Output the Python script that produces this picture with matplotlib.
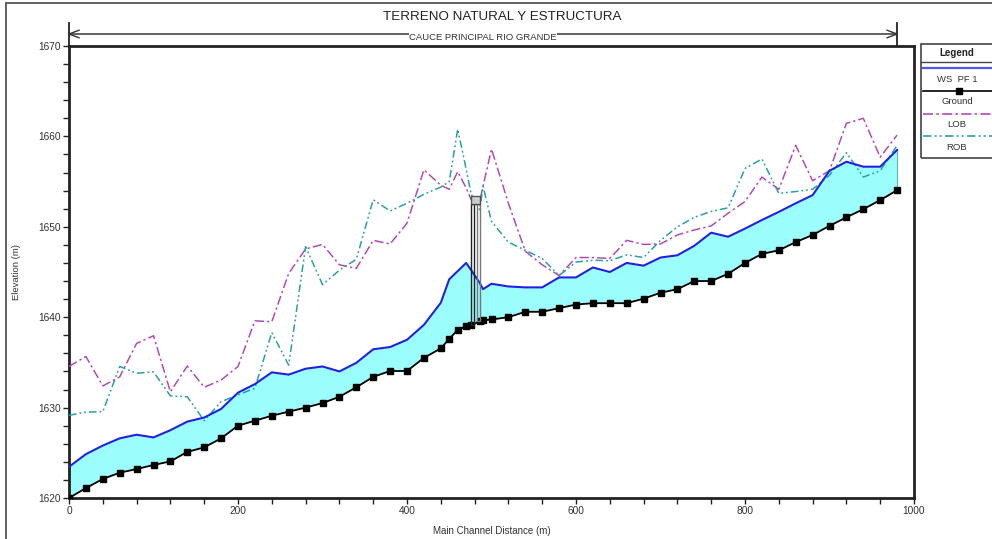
import matplotlib
matplotlib.use("Agg")
import matplotlib.pyplot as plt
from matplotlib.lines import Line2D
from matplotlib.patches import Rectangle
from matplotlib.ticker import MultipleLocator

plt.rcParams['font.family'] = ['Liberation Sans', 'DejaVu Sans']

# Stations along the main channel (m)
station = [0, 20, 40, 60, 80, 100, 120, 140, 160, 180, 200, 220, 240, 260, 280,
           300, 320, 340, 360, 380, 400, 420, 440, 450, 460, 470, 476, 486, 490,
           500, 520, 540, 560, 580, 600, 620, 640, 660, 680, 700, 720, 740, 760,
           780, 800, 820, 840, 860, 880, 900, 920, 940, 960, 980]

# Water surface elevation, profile PF 1 (m)
ws_pf1 = [1623.45, 1624.85, 1625.8, 1626.6, 1627.0, 1626.7, 1627.5, 1628.45,
          1628.9, 1629.85, 1631.65, 1632.6, 1633.9, 1633.65, 1634.3, 1634.55,
          1634.0, 1634.95, 1636.45, 1636.7, 1637.5, 1639.15, 1641.6, 1644.2,
          1645.1, 1646.0, 1645.2, 1643.8, 1643.1, 1643.7, 1643.4, 1643.3,
          1643.3, 1644.4, 1644.4, 1645.5, 1645.0, 1646.0, 1645.7, 1646.6,
          1646.85, 1647.9, 1649.35, 1648.9, 1649.8, 1650.75, 1651.65, 1652.6,
          1653.5, 1656.2, 1657.2, 1656.65, 1656.65, 1658.5]

# Channel bed (m)
ground = [1620.0, 1621.1, 1622.1, 1622.8, 1623.2, 1623.65, 1624.05, 1625.1,
          1625.6, 1626.6, 1628.0, 1628.55, 1629.1, 1629.55, 1630.0, 1630.5,
          1631.2, 1632.25, 1633.4, 1634.05, 1634.05, 1635.5, 1636.55, 1637.6,
          1638.6, 1639.0, 1639.1, 1639.55, 1639.65, 1639.75, 1640.0, 1640.6,
          1640.6, 1641.0, 1641.4, 1641.55, 1641.55, 1641.55, 1642.05, 1642.7,
          1643.1, 1644.0, 1644.0, 1644.8, 1646.0, 1647.0, 1647.4, 1648.3,
          1649.1, 1650.1, 1651.05, 1651.95, 1652.95, 1654.05]

# Left overbank (m)
lob = [1634.55, 1635.65, 1632.4, 1633.4, 1637.1, 1637.95, 1631.75, 1634.6,
       1632.25, 1633.05, 1634.55, 1639.6, 1639.5, 1644.85, 1647.55, 1648.05,
       1645.8, 1645.4, 1648.5, 1648.1, 1650.4, 1656.3, 1654.6, 1654.15,
       1656.1, 1654.3, 1653.0, 1652.8, 1654.5, 1658.6, 1652.6, 1647.3,
       1645.8, 1644.6, 1646.6, 1646.6, 1646.5, 1648.5, 1648.05, 1648.1,
       1649.1, 1649.65, 1650.1, 1651.5, 1652.8, 1655.5, 1654.15, 1659.0,
       1655.1, 1656.2, 1661.45, 1662.0, 1657.7, 1660.15]

# Right overbank (m)
rob = [1629.15, 1629.5, 1629.55, 1634.55, 1633.8, 1633.95, 1631.3, 1631.2,
       1628.55, 1630.65, 1631.4, 1632.15, 1638.3, 1634.7, 1647.8, 1643.6,
       1645.2, 1646.4, 1653.0, 1651.75, 1652.6, 1653.6, 1654.4, 1655.0,
       1660.8, 1656.4, 1653.6, 1651.9, 1654.5, 1650.6, 1648.3, 1647.4,
       1646.5, 1644.6, 1646.1, 1646.3, 1646.25, 1646.9, 1646.6, 1648.5,
       1650.0, 1651.05, 1651.7, 1652.1, 1656.45, 1657.5, 1653.7, 1653.9,
       1654.15, 1655.7, 1658.2, 1655.5, 1656.2, 1659.0]

# Bridge: pier faces (m) and deck elevations (m)
pier_left = [476.0, 478.7]
pier_right = [483.4, 486.6]
pier_base = [1639.1, 1639.55]
deck_low = 1652.5
deck_high = 1653.45

x_ticks = [0, 200, 400, 600, 800, 1000]
y_ticks = [1620, 1630, 1640, 1650, 1660, 1670]

W, H = 992, 539
fig = plt.figure(figsize=(W / 100, H / 100), dpi=100)

def fx(px):
    return px / W

def fy(py):
    return 1 - py / H

ax = fig.add_axes([fx(69), fy(498), fx(914) - fx(69), fy(46) - fy(498)])

txt = '#333333'
ws_color = '#2222dd'
fill_color = '#9cfdfd'
lob_color = '#b04cb4'
rob_color = '#2aa0a0'

ax.fill_between(station, ground, ws_pf1, color=fill_color, lw=0, zorder=1)
ax.plot([station[-1], station[-1]], [ground[-1], ws_pf1[-1]], color='#55bbbb', lw=0.8, zorder=1)
ax.plot(station, lob, color=lob_color, lw=1.1, ls=(0, (6, 2, 1.5, 2)), zorder=3)
ax.plot(station, rob, color=rob_color, lw=1.1, ls=(0, (5, 2, 1.2, 1.8, 1.2, 2)), zorder=3)
ax.plot(station, ws_pf1, color=ws_color, lw=1.5, zorder=4)
ax.plot(station, ground, color='black', lw=1.3, marker='s', ms=4.0, zorder=5)

# bridge piers and deck
for (x0, x1), gb, ec in zip([pier_left, pier_right], pier_base, ['#222222', '#777777']):
    ax.add_patch(Rectangle((x0, gb), x1 - x0, deck_low - gb, fill=False,
                           ec=ec, lw=1.0, zorder=6))
ax.add_patch(Rectangle((pier_left[0], deck_low), pier_right[1] - pier_left[0],
                       deck_high - deck_low, fc='#cccccc', ec='#444444', lw=1.0,
                       alpha=0.9, zorder=6))

ax.set_xlim(0, 1000)
ax.set_ylim(1620, 1670)
ax.set_xticks(x_ticks)
ax.set_yticks(y_ticks)
ax.xaxis.set_minor_locator(MultipleLocator(40))
ax.yaxis.set_minor_locator(MultipleLocator(2))
ax.tick_params(which='both', direction='out', length=4, width=1, color='#222222',
               labelsize=7.3, labelcolor=txt, pad=2)
for s in ax.spines.values():
    s.set_linewidth(2)
    s.set_color('#222222')

ax.set_xlabel('Main Channel Distance (m)', fontsize=7, color=txt)
ax.set_ylabel('Elevation (m)', fontsize=6.8, color=txt)
ax.xaxis.set_label_coords(0.5, -(526 - 498) / 452)
ax.yaxis.set_label_coords(-0.057, 0.5)

# outer frame
fig.add_artist(Rectangle((fx(6), -0.02), 1.05, fy(3) + 0.02, transform=fig.transFigure,
                         fill=False, ec='#555555', lw=1.3))

# titles
fig.text(fx(502), fy(17), 'TERRENO NATURAL Y ESTRUCTURA', ha='center', va='center',
         fontsize=9.6, color='#222222')

# reach extent arrow above the plot
yarr = fy(34)
x_start = ax.transData.transform((station[0], 1670))[0] / fig.bbox.width
x_end = ax.transData.transform((station[-1], 1670))[0] / fig.bbox.width
fig.add_artist(Line2D([x_start, x_end], [yarr, yarr], transform=fig.transFigure,
                      color='#555555', lw=1.3))
for xe, d in [(x_start, 1), (x_end, -1)]:
    fig.add_artist(Line2D([xe, xe], [fy(23), fy(46)], transform=fig.transFigure,
                          color='#222222', lw=1.3))
    fig.add_artist(Line2D([xe + d * fx(10), xe, xe + d * fx(10)],
                          [yarr + 0.007, yarr, yarr - 0.007], transform=fig.transFigure,
                          color='#333333', lw=1.0))
fig.text(fx(483), fy(37), 'CAUCE PRINCIPAL RIO GRANDE', ha='center', va='center',
         fontsize=6.8, color='#333333',
         bbox=dict(boxstyle='square,pad=0.05', fc='white', ec='none'))

# legend panel
lx0 = fx(921)
fig.add_artist(Rectangle((lx0, fy(158)), 0.2, fy(44) - fy(158), transform=fig.transFigure,
                         fill=False, ec='#444444', lw=1.2))
fig.add_artist(Line2D([lx0, 1.0], [fy(62), fy(62)], transform=fig.transFigure,
                      color='#444444', lw=1.0))
cx = fx(957)
fig.text(cx, fy(53), 'Legend', ha='center', va='center', fontsize=7, fontweight='bold',
         color='#222222')
entries = [
    ('WS  PF 1', dict(color='#5555ee', lw=1.6), 68, 80),
    ('Ground', dict(color='black', lw=1.2, marker='s', ms=4, markevery=[1]), 91, 102),
    ('LOB', dict(color=lob_color, lw=1.2, ls=(0, (6, 2, 1.5, 2))), 114, 125),
    ('ROB', dict(color=rob_color, lw=1.2, ls=(0, (5, 2, 1.2, 1.8, 1.2, 2))), 136, 148),
]
for label, style, yline, ytext in entries:
    fig.add_artist(Line2D([fx(923), fx(959), 1.0], [fy(yline)] * 3,
                          transform=fig.transFigure, **style))
    fig.text(cx, fy(ytext), label, ha='center', va='center', fontsize=6.8, color=txt)

fig.savefig('out.png', dpi=100)
